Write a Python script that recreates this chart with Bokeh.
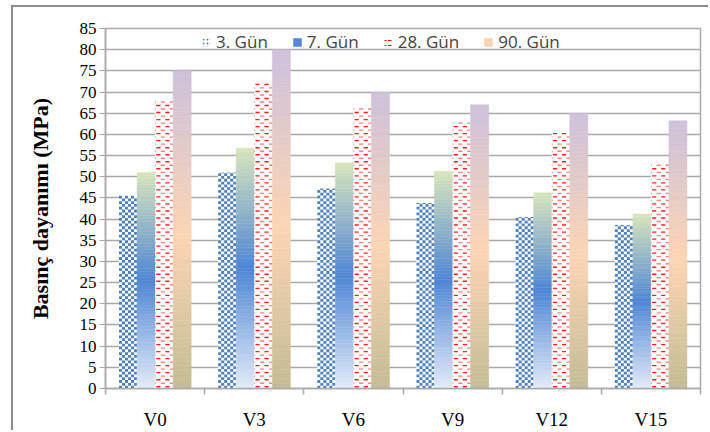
import numpy as np
from bokeh.plotting import figure
from bokeh.models import (ColumnDataSource, FixedTicker, Legend, LegendItem, Range1d)
from bokeh.embed import file_html
from bokeh.resources import INLINE

# --- data -------------------------------------------------------------
categories = ["V0", "V3", "V6", "V9", "V12", "V15"]
series_names = ["3. Gün", "7. Gün", "28. Gün", "90. Gün"]
gun3 = [45.5, 51.0, 47.2, 43.8, 40.5, 38.6]
gun7 = [51.0, 56.7, 53.3, 51.3, 46.2, 41.2]
gun28 = [68.1, 72.4, 67.2, 63.5, 61.0, 53.7]
gun90 = [75.0, 80.0, 70.0, 67.0, 65.0, 63.2]
y_ticks = list(range(0, 90, 5))

# --- geometry of the grouped bars ---------------------------------------
BAR_W = 0.182
offsets = [-1.5 * BAR_W, -0.5 * BAR_W, 0.5 * BAR_W, 1.5 * BAR_W]
centers = [i + 0.5 for i in range(len(categories))]

SERIF = "Liberation Serif"
SANS = "Open Sans"
GRID = "#a9a9a9"
BLUE = "#4f81bd"

p = figure(width=697, height=425, output_backend="svg", toolbar_location=None,
           x_range=Range1d(0, len(categories)), y_range=Range1d(0, 85),
           min_border_left=92, min_border_right=10, min_border_top=21,
           min_border_bottom=40)
p.margin = (5, 0, 0, 11)
p.styles = {"border-left": "2px solid #8c8c8c", "border-top": "2px solid #8c8c8c"}
p.background_fill_color = "white"
p.border_fill_color = "white"
p.outline_line_color = GRID
p.outline_line_width = 1.5


def hex_to_rgb(h):
    h = h.lstrip("#")
    return np.array([int(h[i:i + 2], 16) for i in (0, 2, 4)], dtype=float)


def gradient_color(stops, t):
    pos = [s[0] for s in stops]
    cols = np.array([hex_to_rgb(s[1]) for s in stops])
    rgb = [np.interp(t, pos, cols[:, k]) for k in range(3)]
    return "#%02x%02x%02x" % tuple(int(round(c)) for c in rgb)


def gradient_source(values, offset, stops, n=70):
    # each bar is filled bottom-to-top with thin slices of a colour ramp
    left, right, bottom, top, color = [], [], [], [], []
    for c, v in zip(centers, values):
        x = c + offset
        for i in range(n):
            left.append(x - BAR_W / 2)
            right.append(x + BAR_W / 2)
            bottom.append(v * i / n)
            top.append(v * (i + 1) / n)
            color.append(gradient_color(stops, (i + 0.5) / n))
    return ColumnDataSource(dict(left=left, right=right, bottom=bottom,
                                 top=top, color=color))


def checker_source(values, offset, ncols=6, cell_h=0.66):
    # blue / white checkerboard filling each bar up to its value
    cell_w = BAR_W / ncols
    left, right, bottom, top = [], [], [], []
    for c, v in zip(centers, values):
        x0 = c + offset - BAR_W / 2
        nrows = int(np.ceil(v / cell_h))
        for row in range(nrows):
            y0 = row * cell_h
            y1 = min(v, y0 + cell_h)
            for col in range(ncols):
                if (row + col) % 2 == 0:
                    left.append(x0 + col * cell_w)
                    right.append(x0 + (col + 1) * cell_w)
                    bottom.append(y0)
                    top.append(y1)
    return ColumnDataSource(dict(left=left, right=right, bottom=bottom, top=top))


def dash_source(values, offset, row_h=0.83, thick=0.32, period=BAR_W / 2,
                dash=0.042):
    # staggered rows of short red dashes filling each bar
    left, right, bottom, top, color = [], [], [], [], []
    for c, v in zip(centers, values):
        x0 = c + offset - BAR_W / 2
        x1 = x0 + BAR_W
        nrows = int(v / row_h)
        for row in range(nrows):
            yc = (row + 0.5) * row_h
            phase = 0.012 + (row % 2) * period / 2
            for k in range(-1, 4):
                xs = x0 + phase + k * period
                xe = xs + dash
                xs, xe = max(xs, x0), min(xe, x1)
                if xe - xs > 0.004:
                    left.append(xs)
                    right.append(xe)
                    bottom.append(yc - thick / 2)
                    top.append(yc + thick / 2)
                    color.append("#ff1f1f" if row % 2 == 0 else "#ff8080")
    return ColumnDataSource(dict(left=left, right=right, bottom=bottom,
                                 top=top, color=color))


stops7 = [(0.0, "#e3ebf7"), (0.5, "#4f86d5"), (1.0, "#d8e5bc")]
stops90 = [(0.0, "#c3bc96"), (0.48, "#fcd5b4"), (1.0, "#cdc1db")]

# 3. Gün: white bar with checker pattern
p.vbar(x=[c + offsets[0] for c in centers], top=gun3, width=BAR_W,
       fill_color="white", line_color=None)
p.quad(left="left", right="right", bottom="bottom", top="top",
       source=checker_source(gun3, offsets[0]), fill_color=BLUE, line_color=None)

# 7. Gün: gradient bar
r7 = p.quad(left="left", right="right", bottom="bottom", top="top",
            source=gradient_source(gun7, offsets[1], stops7),
            fill_color="color", line_color="color", line_width=0.5)

# 28. Gün: white bar with red dashes
p.vbar(x=[c + offsets[2] for c in centers], top=gun28, width=BAR_W,
       fill_color="white", line_color=None)
p.quad(left="left", right="right", bottom="bottom", top="top",
       source=dash_source(gun28, offsets[2]), fill_color="color", line_color=None)

# 90. Gün: gradient bar
r90 = p.quad(left="left", right="right", bottom="bottom", top="top",
             source=gradient_source(gun90, offsets[3], stops90),
             fill_color="color", line_color="color", line_width=0.5)

# legend swatches for the patterned series (zero-height, so only the key shows)
leg3 = p.vbar(x=[centers[0]], top=[0], width=BAR_W, fill_color="white",
              line_color=None, hatch_pattern="dot", hatch_color=BLUE,
              hatch_scale=4, hatch_weight=3)
leg28 = p.vbar(x=[centers[0]], top=[0], width=BAR_W, fill_color="white",
               line_color=None, hatch_pattern="horizontal_dash",
               hatch_color="#ff0000", hatch_scale=5, hatch_weight=1)

# --- axes -------------------------------------------------------------
p.xgrid.grid_line_color = None
p.ygrid.ticker = FixedTicker(ticks=y_ticks)
p.ygrid.grid_line_color = GRID
p.ygrid.grid_line_width = 1.5
p.ygrid.level = "underlay"

yax = p.yaxis[0]
yax.ticker = FixedTicker(ticks=y_ticks)
yax.axis_line_color = GRID
yax.axis_line_width = 1.5
yax.major_tick_line_color = GRID
yax.major_tick_out = 6
yax.major_tick_in = 0
yax.minor_tick_line_color = None
yax.major_label_text_font = SERIF
yax.major_label_text_font_size = "17px"
yax.major_label_text_color = "black"
yax.major_label_standoff = 3
yax.axis_label = "Basınç dayanımı (MPa)"
yax.axis_label_text_font = SERIF
yax.axis_label_text_font_style = "bold"
yax.axis_label_text_font_size = "22px"
yax.axis_label_text_color = "black"
yax.axis_label_standoff = 24

xax = p.xaxis[0]
xax.ticker = FixedTicker(ticks=centers, minor_ticks=list(range(len(categories) + 1)))
xax.major_label_overrides = {c: name for c, name in zip(centers, categories)}
xax.axis_line_color = GRID
xax.axis_line_width = 1.5
xax.major_tick_line_color = None
xax.major_tick_out = 0
xax.major_tick_in = 0
xax.minor_tick_line_color = GRID
xax.minor_tick_line_width = 1.5
xax.minor_tick_out = 6
xax.minor_tick_in = 0
xax.major_label_text_font = SERIF
xax.major_label_text_font_size = "19px"
xax.major_label_text_color = "black"
xax.major_label_standoff = 14

# --- legend -----------------------------------------------------------
legend = Legend(items=[
    LegendItem(label=series_names[0], renderers=[leg3]),
    LegendItem(label=series_names[1], renderers=[r7], index=35),
    LegendItem(label=series_names[2], renderers=[leg28]),
    LegendItem(label=series_names[3], renderers=[r90], index=30),
], orientation="horizontal", location=(96, 335), glyph_width=10, glyph_height=10,
    label_text_font=SANS, label_text_font_size="17px", label_standoff=5,
    spacing=24, padding=2, margin=0, border_line_color=None,
    background_fill_alpha=0.0, label_height=18)
p.add_layout(legend, "center")

open("out.html", "w").write(file_html(p, INLINE))
